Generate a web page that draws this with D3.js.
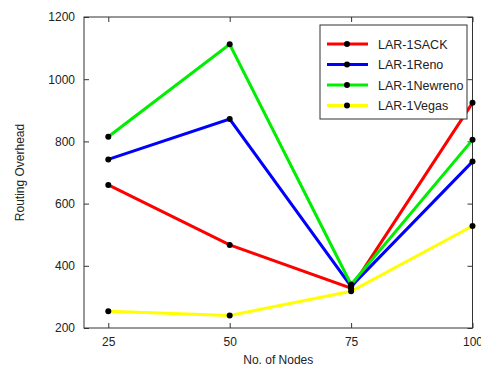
<!DOCTYPE html>
<html lang="en">
<head>
  <meta charset="UTF-8" />
  <title>Routing Overhead</title>
  <script src="https://d3js.org/d3.v7.min.js"></script>
  <style>
    body { margin: 0; background: #fff; font-family: "Liberation Sans", Arial, sans-serif; }
    .tick text { font-size: 12px; fill: #222; }
    .axis-label { font-size: 12px; fill: #222; }
  </style>
</head>
<body>
  <svg width="481" height="369"></svg>

  <script>
    const svg = d3.select("svg");
    const margin = { top: 17, right: 8, bottom: 41, left: 84 };
    const width = 481, height = 369;

    // data
    const nodes = [25, 50, 75, 100];
    const seriesNames = ["LAR-1SACK", "LAR-1Reno", "LAR-1Newreno", "LAR-1Vegas"];
    const sack = [660, 467, 328, 924];
    const reno = [742, 872, 334, 735];
    const newreno = [815, 1112, 340, 805];
    const vegas = [254, 240, 318, 528];
    const colors = ["#ff0000", "#0000ff", "#00ee00", "#ffff00"];
    const yTicks = [200, 400, 600, 800, 1000, 1200];

    const series = [sack, reno, newreno, vegas].map((vals, i) => ({
      name: seriesNames[i], color: colors[i],
      values: vals.map((v, j) => ({ x: nodes[j], y: v }))
    }));

    const x = d3.scaleLinear().domain([20, 100]).range([margin.left, width - margin.right - 0.5]);
    const y = d3.scaleLinear().domain([200, 1200]).range([height - margin.bottom, margin.top]);

    // axes with inward ticks on all four sides
    const axisColor = "#333";
    const styleAxis = g => {
      g.select(".domain").remove();
      g.selectAll("line").attr("stroke", axisColor);
    };
    svg.append("g").attr("transform", `translate(0,${y(200)})`)
      .call(d3.axisBottom(x).tickValues(nodes).tickSize(-5).tickPadding(9).tickFormat(d3.format("d")))
      .call(styleAxis);
    svg.append("g").attr("transform", `translate(0,${y(1200)})`)
      .call(d3.axisTop(x).tickValues(nodes).tickSize(-5).tickFormat(""))
      .call(styleAxis);
    svg.append("g").attr("transform", `translate(${x(20)},0)`)
      .call(d3.axisLeft(y).tickValues(yTicks).tickSize(-5).tickPadding(9).tickFormat(d3.format("d")))
      .call(styleAxis);
    svg.append("g").attr("transform", `translate(${x(100)},0)`)
      .call(d3.axisRight(y).tickValues(yTicks).tickSize(-5).tickFormat(""))
      .call(styleAxis);

    svg.selectAll(".tick text").attr("font-family", "'Liberation Sans', Arial, sans-serif");

    svg.append("rect")
      .attr("x", x(20)).attr("y", y(1200))
      .attr("width", x(100) - x(20)).attr("height", y(200) - y(1200))
      .attr("fill", "none").attr("stroke", axisColor).attr("stroke-width", 1);

    // lines
    const line = d3.line().x(d => x(d.x)).y(d => y(d.y));
    svg.append("g").selectAll("path").data(series).join("path")
      .attr("d", d => line(d.values))
      .attr("fill", "none")
      .attr("stroke", d => d.color)
      .attr("stroke-width", 3);

    // markers
    svg.append("g").selectAll("g").data(series).join("g")
      .selectAll("circle").data(d => d.values).join("circle")
      .attr("cx", d => x(d.x)).attr("cy", d => y(d.y))
      .attr("r", 3).attr("fill", "#000");

    // axis titles
    svg.append("text").attr("class", "axis-label")
      .attr("x", (x(20) + x(100)) / 2).attr("y", 364)
      .attr("text-anchor", "middle").text("No. of Nodes");
    svg.append("text").attr("class", "axis-label")
      .attr("transform", `translate(24,${(y(200) + y(1200)) / 2}) rotate(-90)`)
      .attr("text-anchor", "middle").text("Routing Overhead");

    // legend
    const legend = svg.append("g").attr("transform", "translate(320,25)");
    legend.append("rect").attr("width", 147).attr("height", 94)
      .attr("fill", "#fff").attr("stroke", axisColor);
    const items = legend.selectAll("g").data(series).join("g")
      .attr("transform", (d, i) => `translate(0,${19 + i * 20.5})`);
    items.append("line").attr("x1", 7).attr("x2", 48)
      .attr("stroke", d => d.color).attr("stroke-width", 3);
    items.append("circle").attr("cx", 27).attr("r", 3).attr("fill", "#000");
    items.append("text").attr("x", 58).attr("y", 4.5)
      .attr("font-size", 12.5).attr("fill", "#222").text(d => d.name);
  </script>
</body>
</html>
